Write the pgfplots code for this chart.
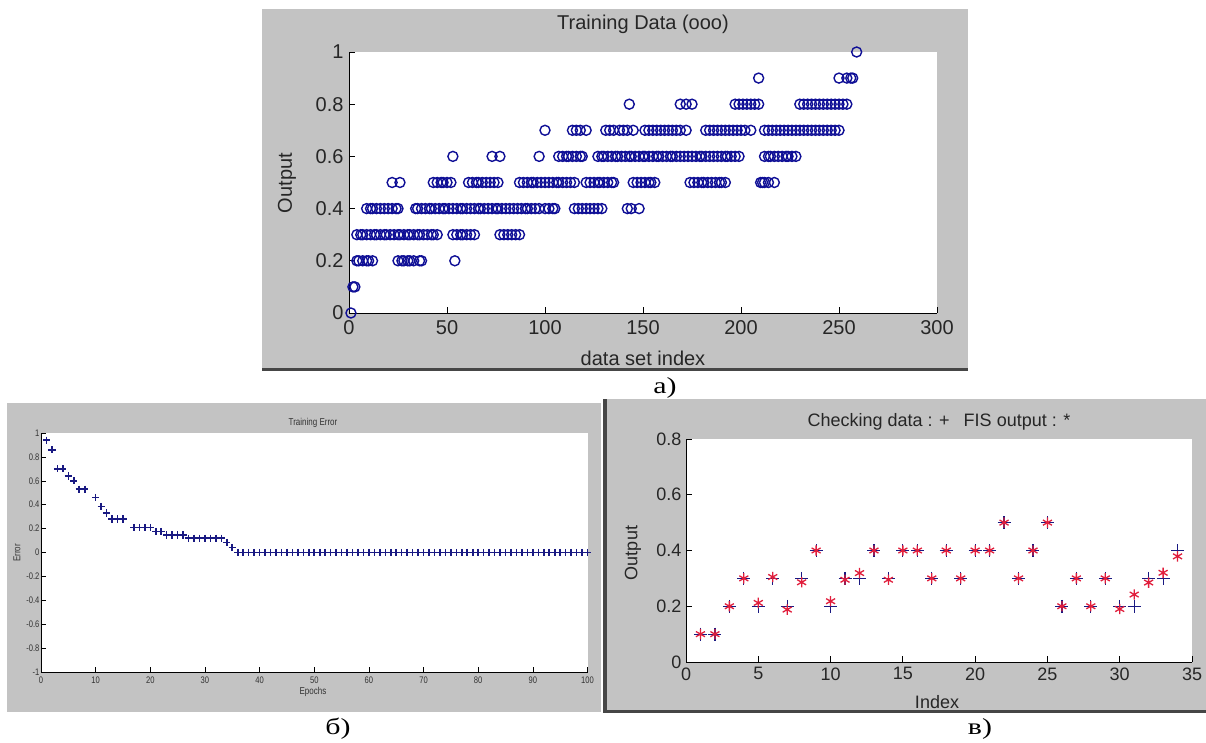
\documentclass[border=0pt]{standalone}
\usepackage{pgfplots}
\pgfplotsset{compat=1.18}
\usepackage{fontspec}
\setmainfont{Liberation Sans}
\newfontfamily\seriffont[FakeStretch=1.3]{Liberation Serif}
\newfontfamily\narrowfont[FakeStretch=0.8]{Liberation Sans}
\definecolor{panelgray}{RGB}{195,195,195}
\definecolor{edgedark}{RGB}{70,70,70}
\definecolor{circblue}{RGB}{15,15,150}
\definecolor{plusblue}{RGB}{25,25,130}
\definecolor{starred}{RGB}{225,30,60}
\pgfplotsset{mstyle/.style={scale only axis, axis lines*=left, tick align=inside, clip=false,
  axis line style={black, line width=0.9pt}, major tick style={black, line width=0.9pt},
  major tick length=6pt, axis background/.style={fill=white},
  /pgf/number format/assume math mode=true}}
\begin{document}
\begin{tikzpicture}
\path[use as bounding box] (0pt,0pt) rectangle (1206pt,742pt);
\fill[white] (0pt,0pt) rectangle (1206pt,742pt);
% panels
\fill[panelgray] (262pt,374pt) rectangle (968pt,733pt);
\fill[edgedark] (262pt,371pt) rectangle (968pt,374pt);
\fill[panelgray] (7pt,30pt) rectangle (601pt,339pt);
\fill[panelgray] (607pt,32pt) rectangle (1206pt,343pt);
\fill[edgedark] (603pt,29pt) rectangle (607pt,343pt);
\fill[edgedark] (603pt,29pt) rectangle (1206pt,32pt);

% ---------------- top: Training Data
\begin{axis}[mstyle, at={(349pt,429pt)}, anchor=south west, width=588pt, height=261pt,
  xmin=0, xmax=300, ymin=0, ymax=1,
  xtick={0,50,100,150,200,250,300}, ytick={0,0.2,0.4,0.6,0.8,1},
  tick label style={font=\fontsize{20}{22}\selectfont, text=black!85},
  xticklabel style={yshift=-4pt}, yticklabel style={xshift=-2pt}]
\addplot[only marks, mark=o, mark size=5pt, circblue, mark options={line width=1.4pt}] coordinates {
(1,0)
(2,0.1)(3,0.1)
(4,0.2)(5,0.2)(7,0.2)(9,0.2)(10,0.2)(12,0.2)(25,0.2)(27,0.2)(28,0.2)(30,0.2)(31,0.2)(33,0.2)(36,0.2)(37,0.2)(54,0.2)
(4,0.3)(6,0.3)(7,0.3)(9,0.3)(11,0.3)(13,0.3)(14,0.3)(16,0.3)(18,0.3)(19,0.3)(21,0.3)(23,0.3)(25,0.3)(26,0.3)(28,0.3)(30,0.3)(31,0.3)(33,0.3)(35,0.3)(36,0.3)(38,0.3)(40,0.3)(42,0.3)(43,0.3)(45,0.3)
(53,0.3)(55,0.3)(57,0.3)(58,0.3)(60,0.3)(62,0.3)(64,0.3)(77,0.3)(79,0.3)(81,0.3)(83,0.3)(85,0.3)(87,0.3)
(9,0.4)(11,0.4)(12,0.4)(14,0.4)(16,0.4)(18,0.4)(20,0.4)(22,0.4)(24,0.4)(25,0.4)
(34,0.4)(35,0.4)(37,0.4)(39,0.4)(41,0.4)(42,0.4)(44,0.4)(46,0.4)(48,0.4)(49,0.4)(51,0.4)(53,0.4)(55,0.4)(57,0.4)(58,0.4)(60,0.4)(62,0.4)(64,0.4)(66,0.4)(67,0.4)(69,0.4)(71,0.4)(73,0.4)(75,0.4)(76,0.4)(78,0.4)(80,0.4)(82,0.4)(84,0.4)(86,0.4)(88,0.4)(90,0.4)(91,0.4)(93,0.4)(95,0.4)(97,0.4)(100,0.4)(102,0.4)(104,0.4)(105,0.4)
(115,0.4)(117,0.4)(119,0.4)(121,0.4)(123,0.4)(125,0.4)(127,0.4)(129,0.4)(142,0.4)(144,0.4)(148,0.4)
(22,0.5)(26,0.5)(43,0.5)(45,0.5)(47,0.5)(48,0.5)(50,0.5)(52,0.5)(61,0.5)(63,0.5)(65,0.5)(66,0.5)(68,0.5)(70,0.5)(72,0.5)(74,0.5)(76,0.5)
(87,0.5)(89,0.5)(91,0.5)(93,0.5)(94,0.5)(96,0.5)(98,0.5)(100,0.5)(102,0.5)(104,0.5)(106,0.5)(107,0.5)(109,0.5)(111,0.5)(113,0.5)(115,0.5)
(121,0.5)(123,0.5)(125,0.5)(127,0.5)(128,0.5)(130,0.5)(132,0.5)(134,0.5)(135,0.5)(145,0.5)(147,0.5)(149,0.5)(151,0.5)(153,0.5)(154,0.5)(156,0.5)
(174,0.5)(176,0.5)(178,0.5)(180,0.5)(181,0.5)(183,0.5)(185,0.5)(187,0.5)(189,0.5)(190,0.5)(192,0.5)(210,0.5)(211,0.5)(212,0.5)(214,0.5)(217,0.5)
(53,0.6)(73,0.6)(77,0.6)(97,0.6)(107,0.6)(109,0.6)(111,0.6)(112,0.6)(114,0.6)(116,0.6)(118,0.6)(119,0.6)
(127,0.6)(129,0.6)(130,0.6)(132,0.6)(134,0.6)(136,0.6)(137,0.6)(139,0.6)(141,0.6)(143,0.6)(144,0.6)(146,0.6)(148,0.6)(150,0.6)(151,0.6)(153,0.6)(155,0.6)(157,0.6)(158,0.6)(160,0.6)(162,0.6)(164,0.6)(165,0.6)(167,0.6)(169,0.6)(171,0.6)(173,0.6)(175,0.6)(177,0.6)(179,0.6)(180,0.6)(182,0.6)(184,0.6)(186,0.6)(188,0.6)(190,0.6)(192,0.6)(193,0.6)(195,0.6)(197,0.6)(199,0.6)
(212,0.6)(214,0.6)(215,0.6)(217,0.6)(219,0.6)(221,0.6)(223,0.6)(224,0.6)(226,0.6)(228,0.6)
(100,0.7)(114,0.7)(116,0.7)(118,0.7)(121,0.7)(131,0.7)(133,0.7)(135,0.7)(138,0.7)(140,0.7)(142,0.7)(145,0.7)
(151,0.7)(153,0.7)(155,0.7)(157,0.7)(159,0.7)(161,0.7)(163,0.7)(165,0.7)(167,0.7)(169,0.7)(172,0.7)
(182,0.7)(184,0.7)(186,0.7)(188,0.7)(190,0.7)(192,0.7)(194,0.7)(196,0.7)(198,0.7)(200,0.7)(202,0.7)(205,0.7)
(212,0.7)(214,0.7)(216,0.7)(218,0.7)(220,0.7)(222,0.7)(224,0.7)(226,0.7)(228,0.7)(230,0.7)(232,0.7)(234,0.7)(236,0.7)(238,0.7)(240,0.7)(242,0.7)(244,0.7)(246,0.7)(248,0.7)(250,0.7)
(143,0.8)(169,0.8)(172,0.8)(175,0.8)(197,0.8)(199,0.8)(201,0.8)(203,0.8)(205,0.8)(207,0.8)(209,0.8)
(230,0.8)(232,0.8)(234,0.8)(236,0.8)(238,0.8)(240,0.8)(242,0.8)(244,0.8)(246,0.8)(248,0.8)(250,0.8)(252,0.8)(254,0.8)
(209,0.9)(250,0.9)(254,0.9)(256,0.9)(257,0.9)
(259,1)
};
\end{axis}
\node[anchor=base, font=\fontsize{20}{22}\selectfont, text=black!85] at (643pt,712pt) {Training Data (ooo)};
\node[anchor=base, font=\fontsize{20}{22}\selectfont, text=black!85] at (643pt,376pt) {data set index};
\node[rotate=90, font=\fontsize{20}{22}\selectfont, text=black!85] at (287pt,559pt) {Output};
\node[font=\seriffont\fontsize{23}{25}\selectfont] at (665pt,354pt) {а)};

% ---------------- bottom left: Training Error
\begin{axis}[mstyle, at={(41pt,70pt)}, anchor=south west, width=546.5pt, height=239pt,
  xmin=0, xmax=100, ymin=-1, ymax=1,
  axis line style={black, line width=0.6pt}, major tick style={black, line width=0.6pt}, major tick length=5pt,
  xtick={0,10,20,30,40,50,60,70,80,90,100},
  ytick={-1,-0.8,-0.6,-0.4,-0.2,0,0.2,0.4,0.6,0.8,1},
  tick label style={font=\narrowfont\fontsize{9.5}{10}\selectfont, text=black!80},
  xticklabel style={yshift=-1pt}, yticklabel style={xshift=2pt}]
\addplot[only marks, mark=+, mark size=3.6pt, plusblue, mark options={line width=1.6pt}] coordinates {
(1,0.94)(2,0.86)(3,0.70)(4,0.70)(5,0.64)(6,0.60)(7,0.53)(8,0.53)(10,0.46)(11,0.385)(12,0.33)
(13,0.28)(14,0.28)(15,0.28)(17,0.21)(18,0.21)(19,0.21)(20,0.21)(21,0.175)(22,0.175)
(23,0.147)(24,0.147)(25,0.147)(26,0.147)(27,0.12)(28,0.12)(29,0.12)(30,0.12)(31,0.12)(32,0.12)(33,0.12)
(34,0.083)(35,0.043)
(36,0)(37,0)(38,0)(39,0)(40,0)(41,0)(42,0)(43,0)(44,0)(45,0)(46,0)(47,0)(48,0)(49,0)(50,0)
(51,0)(52,0)(53,0)(54,0)(55,0)(56,0)(57,0)(58,0)(59,0)(60,0)(61,0)(62,0)(63,0)(64,0)(65,0)
(66,0)(67,0)(68,0)(69,0)(70,0)(71,0)(72,0)(73,0)(74,0)(75,0)(76,0)(77,0)(78,0)(79,0)(80,0)
(81,0)(82,0)(83,0)(84,0)(85,0)(86,0)(87,0)(88,0)(89,0)(90,0)(91,0)(92,0)(93,0)(94,0)(95,0)
(96,0)(97,0)(98,0)(99,0)(100,0)
};
\end{axis}
\node[font=\narrowfont\fontsize{10}{11}\selectfont, text=black!80] at (313pt,319pt) {Training Error};
\node[font=\narrowfont\fontsize{10}{11}\selectfont, text=black!80] at (313pt,50pt) {Epochs};
\node[rotate=90, font=\narrowfont\fontsize{10}{11}\selectfont, text=black!80] at (17pt,189pt) {Error};
\node[font=\seriffont\fontsize{23}{25}\selectfont] at (338pt,13pt) {б)};

% ---------------- bottom right: Checking data
\begin{axis}[mstyle, at={(686pt,80pt)}, anchor=south west, width=506pt, height=223pt,
  xmin=0, xmax=35, ymin=0, ymax=0.8,
  xtick={0,5,10,15,20,25,30,35}, ytick={0,0.2,0.4,0.6,0.8},
  tick label style={font=\fontsize{18}{20}\selectfont, text=black!85},
  xticklabel style={yshift=-2pt}, yticklabel style={xshift=-1pt}]
\addplot[only marks, mark=+, mark size=6.5pt, plusblue, mark options={line width=1.2pt}] coordinates {
(1,0.1)(2,0.1)(3,0.2)(4,0.3)(5,0.2)(6,0.3)(7,0.2)(8,0.3)(9,0.4)(10,0.2)
(11,0.3)(12,0.3)(13,0.4)(14,0.3)(15,0.4)(16,0.4)(17,0.3)(18,0.4)(19,0.3)(20,0.4)
(21,0.4)(22,0.5)(23,0.3)(24,0.4)(25,0.5)(26,0.2)(27,0.3)(28,0.2)(29,0.3)(30,0.2)
(31,0.2)(32,0.3)(33,0.3)(34,0.4)
};
\addplot[only marks, mark=asterisk, mark size=5.2pt, starred, mark options={line width=1.3pt}] coordinates {
(1,0.1)(2,0.1)(3,0.2)(4,0.3)(5,0.212)(6,0.305)(7,0.188)(8,0.286)(9,0.4)(10,0.218)
(11,0.295)(12,0.319)(13,0.4)(14,0.295)(15,0.4)(16,0.4)(17,0.3)(18,0.4)(19,0.3)(20,0.4)
(21,0.4)(22,0.5)(23,0.3)(24,0.4)(25,0.5)(26,0.2)(27,0.3)(28,0.2)(29,0.3)(30,0.19)
(31,0.242)(32,0.285)(33,0.32)(34,0.379)
};
\end{axis}
\node[anchor=base, font=\fontsize{18}{20}\selectfont, text=black!85] at (939pt,315pt) {Checking data : +\hspace{14pt}FIS output : *};
\node[anchor=base, font=\fontsize{18}{20}\selectfont, text=black!85] at (937pt,34pt) {Index};
\node[rotate=90, font=\fontsize{18}{20}\selectfont, text=black!85] at (633pt,189pt) {Output};
\node[font=\seriffont\fontsize{23}{25}\selectfont] at (980pt,13pt) {в)};
\end{tikzpicture}
\end{document}
